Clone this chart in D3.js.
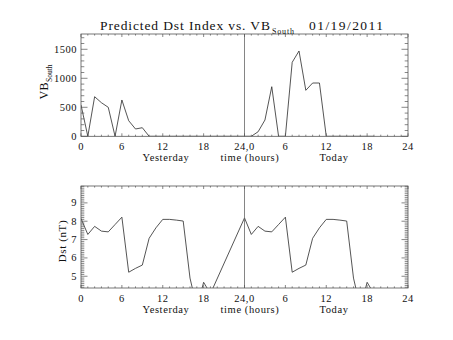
<!DOCTYPE html>
<html>
<head>
<meta charset="utf-8">
<script src="https://cdn.jsdelivr.net/npm/d3@7"></script>
<style>
  html, body { margin: 0; padding: 0; background: #fff; }
  svg { display: block; }
  text { font-family: "Liberation Serif", "DejaVu Serif", serif; fill: #111; }
</style>
</head>
<body>
<svg id="chart" width="453" height="340"></svg>
<script>
// ---- data ----
const titleMain = "Predicted Dst Index vs. VB";
const titleSub = "South";
const titleDate = "01/19/2011";

const xTickValues = [0, 6, 12, 18, 24, 30, 36, 42, 48];
const xTickLabels = ["0", "6", "12", "18", "24,0", "6", "12", "18", "24"];
const xAxisWords = ["Yesterday", "time (hours)", "Today"];

// VB_South (top panel), hourly
const vbHours  = [0,1,2,3,4,5,6,7,8,9,10,11,12,13,14,15,16,17,18,19,20,21,22,23,24,25,26,27,28,29,30,31,32,33,34,35,36,37,38,39,40,41,42,43];
const vbValues = [540,0,683,579,500,0,626,269,126,148,0,0,0,0,0,0,0,0,0,0,0,0,0,0,0,0,79,281,855,0,0,1276,1471,793,919,919,0,0,0,0,0,0,0,0];
const vbTicks = [0, 500, 1000, 1500];

// Dst (bottom panel)
const dstHours  = [0,1,2,3,4,5,6,7,8,9,10,11,12,13,14,15,16,17,18,19,24,25,26,27,28,29,30,31,32,33,34,35,36,37,38,39,40,41,42,43];
const dstValues = [8.15,7.28,7.72,7.46,7.42,7.82,8.22,5.22,5.43,5.61,7.07,7.64,8.10,8.10,8.06,8.01,4.9,3.3,4.67,4.05,
                   8.18,7.28,7.72,7.46,7.42,7.82,8.22,5.22,5.43,5.61,7.07,7.64,8.10,8.10,8.06,8.01,4.9,3.3,4.67,4.05];
const dstTicks = [5, 6, 7, 8, 9];

// ---- layout ----
const svg = d3.select("#chart");
const L = 81, R = 408;
const panels = [
  { top: 34, bottom: 136.3, domain: [0, 1764], ticks: vbTicks, minorStep: 100,
    hours: vbHours, values: vbValues, id: "p1" },
  { top: 186, bottom: 288, domain: [4.36, 9.92], ticks: dstTicks, minorStep: 0.1,
    hours: dstHours, values: dstValues, id: "p2" }
];
const x = d3.scaleLinear().domain([0, 48]).range([L, R]);
const ink = "#333";

panels.forEach((p, i) => {
  const y = d3.scaleLinear().domain(p.domain).range([p.bottom, p.top]);
  p.y = y;
  const g = svg.append("g");

  svg.append("clipPath").attr("id", "clip" + p.id)
    .append("rect").attr("x", L).attr("y", p.top).attr("width", R - L).attr("height", p.bottom - p.top);

  // data line
  const line = d3.line().x(d => x(d[0])).y(d => y(d[1]));
  g.append("path")
    .datum(p.hours.map((h, k) => [h, p.values[k]]))
    .attr("d", line)
    .attr("clip-path", "url(#clip" + p.id + ")")
    .attr("fill", "none").attr("stroke", "#2a2a2a").attr("stroke-width", 0.8);

  // vertical line at 24h
  g.append("line").attr("x1", x(24)).attr("x2", x(24)).attr("y1", p.top).attr("y2", p.bottom)
    .attr("stroke", "#666").attr("stroke-width", 0.8);

  // frame
  g.append("rect").attr("x", L).attr("y", p.top).attr("width", R - L).attr("height", p.bottom - p.top)
    .attr("fill", "none").attr("stroke", "#555").attr("stroke-width", 0.8);

  // x ticks (bottom and top, inward)
  const xMinor = d3.range(0, 49, 1);
  const xMajLen = 3, xMinLen = 1.6;
  xMinor.forEach(h => {
    const len = (h % 6 === 0) ? xMajLen : xMinLen;
    g.append("line").attr("x1", x(h)).attr("x2", x(h)).attr("y1", p.bottom).attr("y2", p.bottom - len)
      .attr("stroke", "#555").attr("stroke-width", 0.7);
    g.append("line").attr("x1", x(h)).attr("x2", x(h)).attr("y1", p.top).attr("y2", p.top + len)
      .attr("stroke", "#555").attr("stroke-width", 0.7);
  });

  // y ticks (left and right, inward)
  const yMajLen = 6.5, yMinLen = 3.3;
  const [d0, d1] = p.domain;
  const nMin = Math.ceil(d0 / p.minorStep - 1e-6), nMax = Math.floor(d1 / p.minorStep + 1e-6);
  for (let n = nMin; n <= nMax; n++) {
    const v = n * p.minorStep;
    const isMajor = p.ticks.some(t => Math.abs(t - v) < 1e-6);
    const len = isMajor ? yMajLen : yMinLen;
    g.append("line").attr("x1", L).attr("x2", L + len).attr("y1", y(v)).attr("y2", y(v))
      .attr("stroke", "#555").attr("stroke-width", 0.7);
    g.append("line").attr("x1", R).attr("x2", R - len).attr("y1", y(v)).attr("y2", y(v))
      .attr("stroke", "#555").attr("stroke-width", 0.7);
  }

  // y tick labels
  g.selectAll(".yl").data(p.ticks).enter().append("text")
    .attr("x", L - 4).attr("y", d => y(d) + 3.5)
    .attr("text-anchor", "end").attr("font-size", 10.5).attr("letter-spacing", 0.5)
    .text(d => d);

  // x tick labels
  g.selectAll(".xl").data(xTickValues).enter().append("text")
    .attr("x", d => x(d)).attr("y", p.bottom + 13.5)
    .attr("text-anchor", "middle").attr("font-size", 10.5).attr("letter-spacing", 0.5)
    .text((d, k) => xTickLabels[k]);

  // x axis words
  const wordX = [166, 250, 334];
  xAxisWords.forEach((w, k) => {
    g.append("text").attr("x", wordX[k]).attr("y", p.bottom + 25)
      .attr("text-anchor", "middle").attr("font-size", 10.5).attr("letter-spacing", 0.6).text(w);
  });
});

// y axis titles
const t1 = svg.append("text").attr("transform", "translate(48,82) rotate(-90)")
  .attr("text-anchor", "middle").attr("font-size", 12).attr("letter-spacing", 0.4);
t1.append("tspan").text("VB");
t1.append("tspan").attr("font-size", 7.5).attr("dy", 3.5).attr("letter-spacing", 0).text("South");

svg.append("text").attr("transform", "translate(66,241) rotate(-90)")
  .attr("text-anchor", "middle").attr("font-size", 11).attr("letter-spacing", 0.6).text("Dst (nT)");

// title
svg.append("text").attr("x", 100).attr("y", 29.5).attr("font-size", 13.5)
  .attr("textLength", 170).attr("lengthAdjust", "spacing").text(titleMain);
svg.append("text").attr("x", 272).attr("y", 34).attr("font-size", 8)
  .attr("textLength", 22).attr("lengthAdjust", "spacing").text(titleSub);
svg.append("text").attr("x", 309).attr("y", 29.5).attr("font-size", 13.5)
  .attr("textLength", 74).attr("lengthAdjust", "spacing").text(titleDate);
</script>
</body>
</html>
